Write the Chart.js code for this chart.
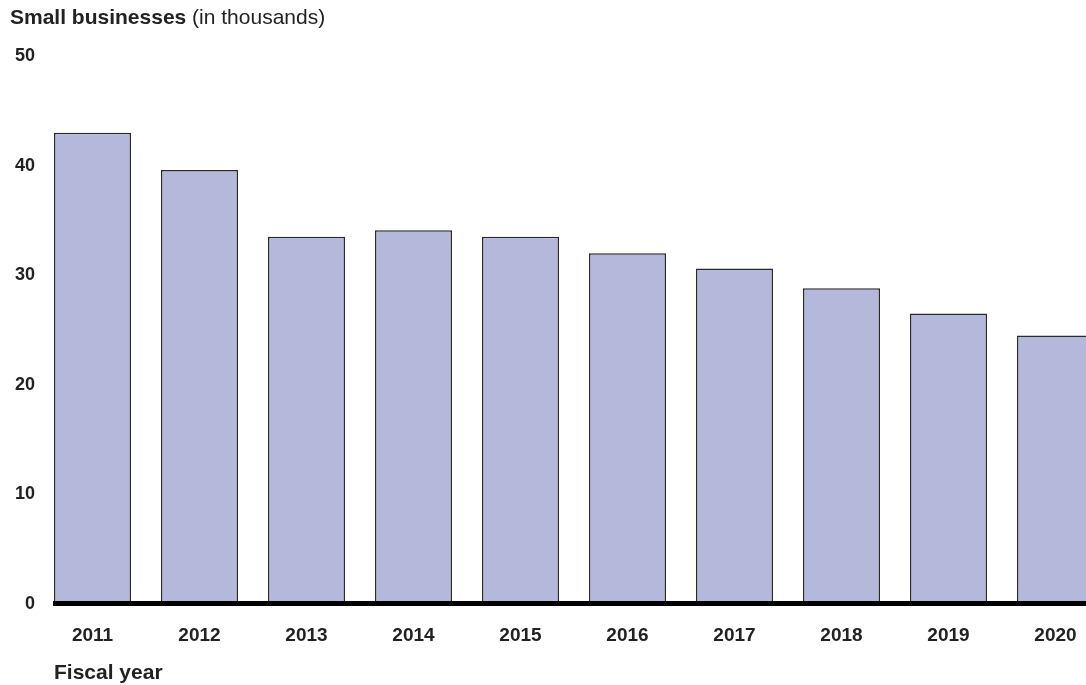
<!DOCTYPE html>
<html>
<head>
<meta charset="UTF-8">
<title>Small businesses</title>
<script src="https://cdn.jsdelivr.net/npm/chart.js@4.4.1/dist/chart.umd.min.js"></script>
<style>
  html, body { margin: 0; padding: 0; background: #fff; overflow: hidden; }
  body { width: 1086px; height: 685px; position: relative; font-family: "Liberation Sans", Arial, sans-serif; color: #222; }
  #wrap { position: absolute; left: 0; top: 0; width: 1109px; height: 685px; }
  #ttl { position: absolute; left: 10px; top: 5px; font-size: 21px; white-space: nowrap; }
  #ttl b { font-weight: bold; }
  #xlab { position: absolute; left: 54px; top: 660px; font-size: 21px; font-weight: bold; }
</style>
</head>
<body>
<div id="wrap"><canvas id="myChart" width="1109" height="685"></canvas></div>
<div id="ttl"><b>Small businesses</b> (in thousands)</div>
<div id="xlab">Fiscal year</div>
<script>
// chart values
var years = ['2011', '2012', '2013', '2014', '2015', '2016', '2017', '2018', '2019', '2020'];
var businesses = [43.0, 39.6, 33.5, 34.1, 33.5, 32.0, 30.6, 28.8, 26.5, 24.5];
var yTicks = [0, 10, 20, 30, 40, 50];

// thick black baseline, starting at the first bar's left edge
var baseline = {
    id: 'baseline',
    afterDatasetsDraw: function (chart) {
        var ctx = chart.ctx;
        var bar = chart.getDatasetMeta(0).data[0];
        var y = chart.scales.y.getPixelForValue(0);
        ctx.save();
        ctx.fillStyle = '#000';
        ctx.fillRect(bar.x - bar.width / 2 - 1, y - 3, chart.chartArea.right, 5);
        ctx.restore();
    }
};

var ctx = document.getElementById('myChart').getContext('2d');
var chart = new Chart(ctx, {
    type: 'bar',
    data: {
        labels: years,
        datasets: [{
            data: businesses,
            backgroundColor: 'rgb(180, 184, 218)',
            borderColor: '#2a2a2a',
            borderWidth: 1.5,
            categoryPercentage: 1,
            barPercentage: 0.72
        }]
    },
    options: {
        responsive: false,
        animation: false,
        layout: { padding: { top: 56, right: 0, left: 0, bottom: 0 } },
        plugins: { legend: { display: false }, tooltip: { enabled: false } },
        scales: {
            x: {
                grid: { display: false, drawTicks: false },
                border: { display: false },
                ticks: { color: '#222', padding: 20, font: { family: 'Liberation Sans', size: 19, weight: 'bold' } },
                afterFit: function (scale) { scale.height = 81; }
            },
            y: {
                min: 0,
                max: 50,
                afterBuildTicks: function (scale) { scale.ticks = yTicks.map(function (v) { return { value: v }; }); },
                grid: { display: false, drawTicks: false },
                border: { display: false },
                ticks: { color: '#222', padding: 4, font: { family: 'Liberation Sans', size: 18, weight: 'bold' } },
                afterFit: function (scale) { scale.width = 39; }
            }
        }
    },
    plugins: [baseline]
});
</script>
</body>
</html>
